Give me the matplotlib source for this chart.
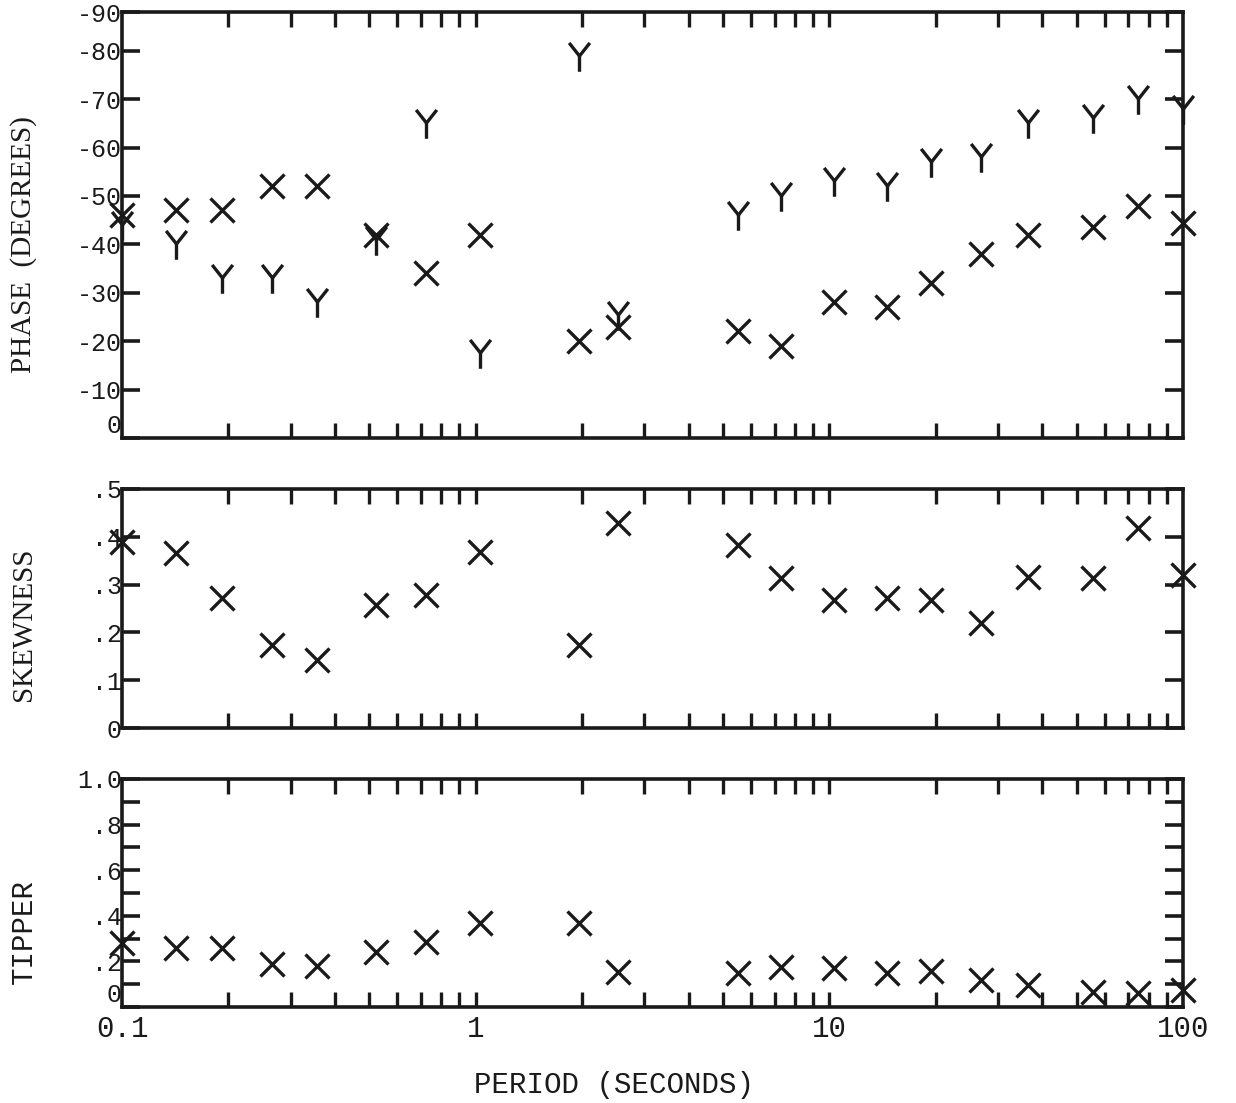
import matplotlib
matplotlib.use("Agg")
import matplotlib.pyplot as plt
from matplotlib.path import Path
from matplotlib.ticker import FixedLocator, NullFormatter, FixedFormatter

# ---- data ----
period = [0.1, 0.142, 0.192, 0.266, 0.356, 0.524, 0.725, 1.03, 1.96, 2.53,
          5.5, 7.3, 10.3, 14.6, 19.4, 26.9, 36.5, 55.6, 74.5, 100]
phase_x = [-46, -47, -47, -52, -52, -42, -34, -42, -20, -23,
           -22, -19, -28, -27, -32, -38, -42, -43.5, -48, -44.5]
phase_y = [-44, -40, -33, -33, -28, -41, -65, -17.5, -79, -25.5,
           -46, -50, -53, -52, -57, -58, -65, -66, -70, -68]
skewness = [0.39, 0.366, 0.272, 0.174, 0.142, 0.257, 0.278, 0.368, 0.174, 0.429,
            0.383, 0.314, 0.268, 0.272, 0.268, 0.22, 0.316, 0.314, 0.418, 0.32]
tipper = [0.28, 0.26, 0.26, 0.19, 0.18, 0.24, 0.285, 0.37, 0.37, 0.155,
          0.15, 0.175, 0.17, 0.15, 0.16, 0.12, 0.095, 0.065, 0.06, 0.075]

phase_ticks = [0, -10, -20, -30, -40, -50, -60, -70, -80, -88]
phase_labels = ["0", "-10", "-20", "-30", "-40", "-50", "-60", "-70", "-80", "-90"]
skew_ticks = [0, 0.1, 0.2, 0.3, 0.4, 0.5]
skew_labels = ["0", ".1", ".2", ".3", ".4", ".5"]
tip_ticks = [0, 0.1, 0.2, 0.3, 0.4, 0.5, 0.6, 0.7, 0.8, 0.9, 1.0]
tip_labels = ["0", "", ".2", "", ".4", "", ".6", "", ".8", "", "1.0"]
x_major = [0.1, 1, 10, 100]
x_labels = ["0.1", "1", "10", "100"]
x_minor = [m * d for d in (0.1, 1, 10) for m in range(2, 10)] + [1, 10]

INK = "#1a1a1a"
MONO = ["Liberation Mono", "DejaVu Sans Mono"]
SERIF = ["Liberation Serif", "DejaVu Serif"]

# Y-shaped marker (letter "Y")
Y_MARK = Path([(-0.42, 0.55), (0, 0.02), (0.42, 0.55), (0, 0.02), (0, -0.62)],
              [Path.MOVETO, Path.LINETO, Path.LINETO, Path.MOVETO, Path.LINETO])

fig = plt.figure(figsize=(12.36, 11.03), dpi=100)
fig.patch.set_facecolor("white")

W = 1236.0
H = 1103.0
left = 122 / W
width = (1183 - 122) / W
ax1 = fig.add_axes([left, 1 - 438 / H, width, (438 - 12) / H])
ax2 = fig.add_axes([left, 1 - 728 / H, width, (728 - 489) / H])
ax3 = fig.add_axes([left, 1 - 1007 / H, width, (1007 - 779) / H])


def style(ax, yt, yl):
    ax.set_xscale("log")
    ax.set_xlim(0.1, 100)
    for s in ax.spines.values():
        s.set_linewidth(2.6)
        s.set_color(INK)
    ax.xaxis.set_major_locator(FixedLocator(x_minor))
    ax.xaxis.set_major_formatter(NullFormatter())
    ax.xaxis.set_minor_locator(FixedLocator([]))
    ax.tick_params(axis="x", which="major", direction="in", length=11, width=2.4,
                   top=True, bottom=True, color=INK)
    ax.yaxis.set_major_locator(FixedLocator(yt))
    ax.yaxis.set_major_formatter(FixedFormatter(yl))
    ax.tick_params(axis="y", which="major", direction="in", length=13, width=2.6,
                   left=True, right=True, color=INK, pad=0, labelsize=18,
                   labelcolor=INK)
    for lab in ax.get_yticklabels():
        lab.set_fontfamily(MONO)


style(ax1, phase_ticks, phase_labels)
ax1.set_ylim(0, -88)
style(ax2, skew_ticks, skew_labels)
ax2.set_ylim(0, 0.5)
style(ax3, tip_ticks, tip_labels)
ax3.set_ylim(0, 1.0)

# the "0" labels of the top and bottom panels sit a little above the frame
for ax in (ax1, ax3):
    t0 = ax.yaxis.get_major_ticks()[0]
    t0.label1.set_verticalalignment("bottom")

# x tick labels on the bottom panel
for xv, lab in zip(x_major, x_labels):
    ax3.text(xv, -0.035, lab, transform=ax3.get_xaxis_transform(), ha="center",
             va="top", fontsize=21, family=MONO, color=INK)

# data
kw = dict(linestyle="none", color=INK, clip_on=False)
ax1.plot(period, phase_x, marker="x", markersize=17, markeredgewidth=2.4, **kw)
ax1.plot(period, phase_y, marker=Y_MARK, markersize=22, markeredgewidth=2.4,
         markerfacecolor="none", **kw)
ax2.plot(period, skewness, marker="x", markersize=17, markeredgewidth=2.4, **kw)
ax3.plot(period, tipper, marker="x", markersize=17, markeredgewidth=2.4, **kw)

# axis labels
fig.text(24 / W, 1 - 245 / H, "PHASE  (DEGREES)", rotation=90, ha="center",
         va="center", fontsize=21, family=SERIF, color=INK)
fig.text(24 / W, 1 - 624 / H, "SKEWNESS", rotation=90, ha="center",
         va="center", fontsize=21, family=SERIF, color=INK)
fig.text(24 / W, 1 - 932 / H, "TIPPER", rotation=90, ha="center",
         va="center", fontsize=21, family=MONO, color=INK)
fig.text(614 / W, 1 - 1085 / H, "PERIOD (SECONDS)", ha="center", va="center",
         fontsize=21, family=MONO, color=INK)

fig.savefig("out.png", dpi=100, facecolor="white")
